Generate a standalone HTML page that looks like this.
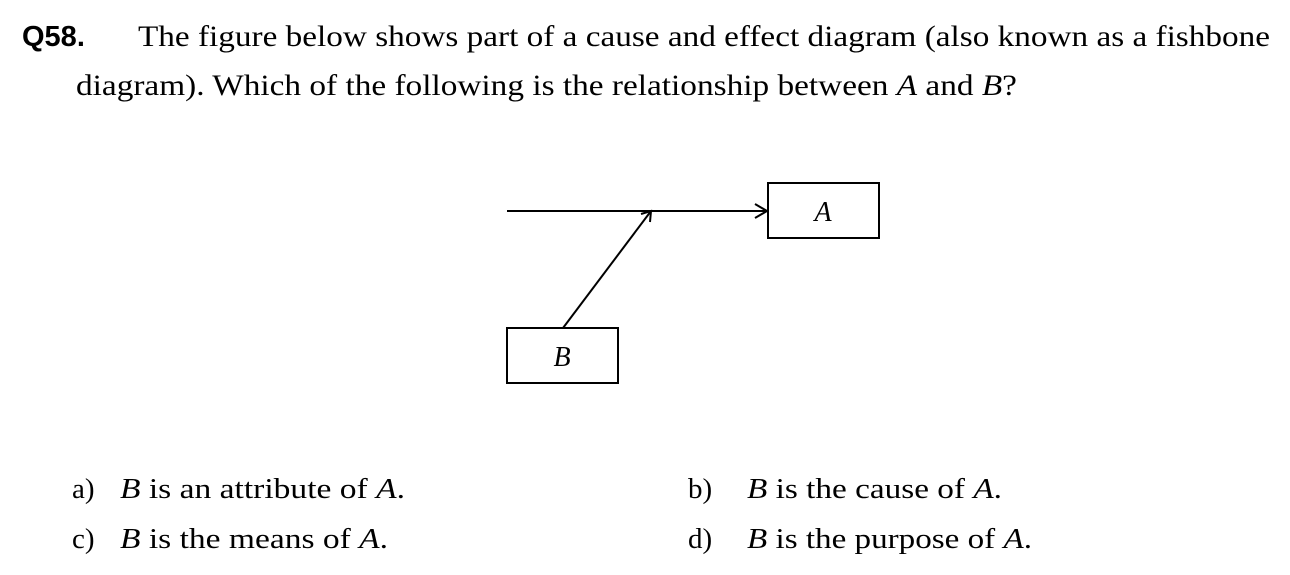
<!DOCTYPE html>
<html><head><meta charset="utf-8"><style>
html,body{margin:0;padding:0;background:#fff;}
svg{display:block}
.s{font-family:"Liberation Serif","Times New Roman",Times,serif;fill:#000}
</style></head><body>
<svg width="1290" height="575" viewBox="0 0 1290 575" xmlns="http://www.w3.org/2000/svg">
<text x="22" y="46" font-weight="bold" font-size="29" style="font-family:'Liberation Sans',Arial,sans-serif">Q58.</text>
<g class="s" style="font-family:'Liberation Serif','Times New Roman',Times,serif">
<text x="138" y="46" font-size="30" textLength="1132" lengthAdjust="spacingAndGlyphs">The figure below shows part of a cause and effect diagram (also known as a fishbone</text>
<text x="76" y="95" font-size="30" textLength="941" lengthAdjust="spacingAndGlyphs">diagram). Which of the following is the relationship between <tspan font-style="italic">A</tspan> and <tspan font-style="italic">B</tspan>?</text>
<text x="823" y="221" font-size="28" font-style="italic" text-anchor="middle">A</text>
<text x="562" y="366" font-size="28" font-style="italic" text-anchor="middle">B</text>
<text x="72" y="498" font-size="29">a)</text>
<text x="120" y="498" font-size="29" textLength="285" lengthAdjust="spacingAndGlyphs"><tspan font-style="italic">B</tspan> is an attribute of <tspan font-style="italic">A</tspan>.</text>
<text x="72" y="548" font-size="29">c)</text>
<text x="120" y="548" font-size="29" textLength="268" lengthAdjust="spacingAndGlyphs"><tspan font-style="italic">B</tspan> is the means of <tspan font-style="italic">A</tspan>.</text>
<text x="688" y="498" font-size="29">b)</text>
<text x="747" y="498" font-size="29" textLength="255" lengthAdjust="spacingAndGlyphs"><tspan font-style="italic">B</tspan> is the cause of <tspan font-style="italic">A</tspan>.</text>
<text x="688" y="548" font-size="29">d)</text>
<text x="747" y="548" font-size="29" textLength="285" lengthAdjust="spacingAndGlyphs"><tspan font-style="italic">B</tspan> is the purpose of <tspan font-style="italic">A</tspan>.</text>
</g>
<g stroke="#000" stroke-width="2" fill="none">
<line x1="507" y1="211" x2="767" y2="211"/>
<polyline points="755,204 767,211 755,218"/>
<rect x="768" y="183" width="111" height="55"/>
<rect x="507" y="328" width="111" height="55"/>
<line x1="563" y1="328" x2="651" y2="211"/>
<polyline points="641,214 651,211 650,222"/>
</g>
</svg>
</body></html>
